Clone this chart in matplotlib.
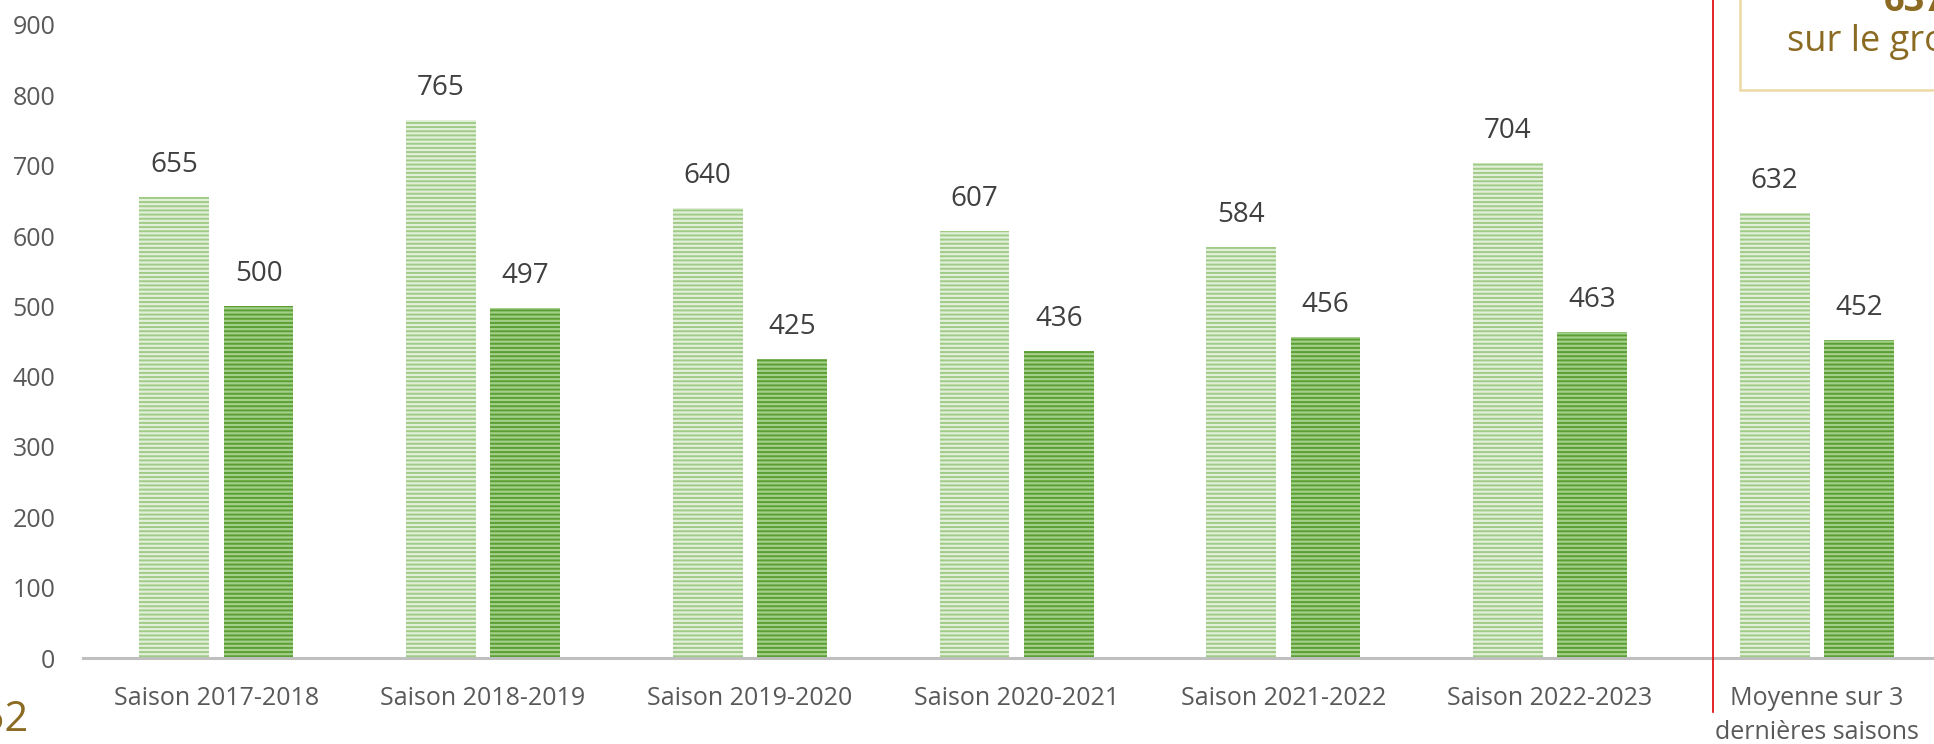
import matplotlib.pyplot as plt
import numpy as np
from matplotlib.patches import Rectangle
from matplotlib.lines import Line2D

categories = ['Saison 2017-2018', 'Saison 2018-2019', 'Saison 2019-2020',
              'Saison 2020-2021', 'Saison 2021-2022', 'Saison 2022-2023',
              'Moyenne sur 3\ndernières saisons']
series_a = [655, 765, 640, 607, 584, 704, 632]
series_b = [500, 497, 425, 436, 456, 463, 452]
y_ticks = [0, 100, 200, 300, 400, 500, 600, 700, 800, 900]

plt.rcParams['font.family'] = ['Open Sans', 'DejaVu Sans']
plt.rcParams['hatch.linewidth'] = 1.4

W, H = 1934, 744
fig = plt.figure(figsize=(W / 100, H / 100), dpi=100)
ax = fig.add_axes([83 / W, 1 - 658 / H, 1 - 83 / W, (658 - 25) / H])

x = np.arange(len(categories))
bw = 0.262
off = 0.158
bars_a = ax.bar(x - off, series_a, bw, facecolor='#E2F0D9', edgecolor='#9FCB86',
                hatch='----', linewidth=0, zorder=2)
bars_b = ax.bar(x + off, series_b, bw, facecolor='#A3CF88', edgecolor='#5A9E34',
                hatch='----', linewidth=0, zorder=2)

ax.bar_label(bars_a, padding=13, fontsize=20, color='#404040')
ax.bar_label(bars_b, padding=13, fontsize=20, color='#404040')

ax.set_xlim(-0.5, (W - 216) / 266.8)
ax.set_ylim(0, 900)
ax.set_yticks(y_ticks)
ax.set_xticks(x)
ax.set_xticklabels(categories, linespacing=1.5)
ax.tick_params(axis='y', length=0, pad=20, labelsize=18, labelcolor='#595959')
ax.tick_params(axis='x', length=0, pad=20, labelsize=18, labelcolor='#595959')
for s in ['top', 'right', 'left']:
    ax.spines[s].set_visible(False)
ax.spines['bottom'].set_color('#BFBFBF')
ax.spines['bottom'].set_linewidth(2.2)
ax.spines['bottom'].set_zorder(3)

# separator line and text box (cut off at the edges)
fig.add_artist(Line2D([1713 / W, 1713 / W], [1, 1 - 712 / H], color='#E00000', linewidth=1.2))
fig.add_artist(Rectangle((1740 / W, 1 - 90 / H), 0.2, 0.2, transform=fig.transFigure,
                         facecolor='white', edgecolor='#EED9A4', linewidth=1.8, zorder=5))
brown = '#8B6B23'
fig.text(1787 / W, 1 - 42 / H, 'sur le groupe', fontsize=26, color=brown,
         ha='left', va='center', zorder=6)
fig.text(1884 / W, 1 - 11 / H, '637', fontsize=26, color=brown, fontweight='bold',
         ha='left', va='baseline', zorder=6)
fig.text(28 / W, 1 - 731 / H, '452', fontsize=30, color=brown, ha='right', va='baseline')

plt.savefig('out.png', dpi=100)
